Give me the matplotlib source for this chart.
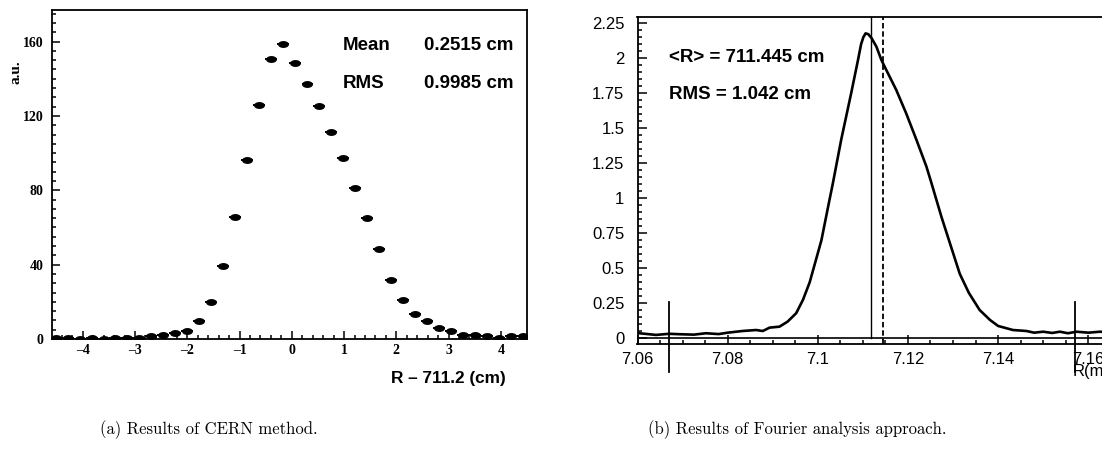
import numpy as np
import matplotlib.pyplot as plt
from matplotlib.ticker import MultipleLocator, FuncFormatter

# CERN method: binned distribution of R - 711.2 (cm)
bin_centers = [-4.52, -4.29, -4.06, -3.83, -3.60, -3.38, -3.15, -2.92, -2.69, -2.46,
               -2.23, -2.00, -1.77, -1.54, -1.31, -1.08, -0.85, -0.62, -0.39, -0.16,
               0.07, 0.30, 0.52, 0.75, 0.98, 1.21, 1.44, 1.67, 1.90, 2.13,
               2.36, 2.59, 2.82, 3.04, 3.27, 3.50, 3.73, 3.96, 4.19, 4.42]
counts = [0.3, 0.3, 0.2, 0.3, 0.2, 0.3, 0.4, 0.6, 1.6, 1.9,
          3.1, 4.4, 9.6, 20.0, 39.5, 65.8, 96.5, 125.8, 150.5, 158.5,
          148.7, 137.1, 125.3, 111.6, 97.6, 81.5, 65.0, 48.2, 31.5, 21.2,
          13.7, 9.5, 6.0, 4.2, 2.4, 2.4, 1.6, 0.4, 1.6, 1.6]
bin_width = 0.229

# Fourier analysis: reconstructed profile versus R (m)
r_m = [7.0600, 7.0604, 7.0641, 7.0670, 7.0693, 7.0725, 7.0752, 7.0780, 7.0800,
       7.0833, 7.0863, 7.0878, 7.0893, 7.0915, 7.0933, 7.0952, 7.0967, 7.0982,
       7.1008, 7.1026, 7.1033, 7.1052, 7.1074, 7.1089, 7.1096, 7.1101, 7.1106,
       7.1112, 7.1119, 7.1130, 7.1141, 7.1152, 7.1174, 7.1196, 7.1219, 7.1241,
       7.1252, 7.1263, 7.1275, 7.1288, 7.1301, 7.1315, 7.1335, 7.1359, 7.1382,
       7.1400, 7.1433, 7.1463, 7.1480, 7.1500, 7.1520, 7.1537, 7.1555, 7.1574,
       7.1600, 7.1626, 7.1650]
amplitude = [0.045, 0.036, 0.024, 0.032, 0.029, 0.026, 0.036, 0.030, 0.040,
             0.052, 0.059, 0.052, 0.076, 0.083, 0.119, 0.179, 0.274, 0.400,
             0.700, 0.990, 1.100, 1.420, 1.750, 1.985, 2.100, 2.150, 2.178,
             2.172, 2.145, 2.083, 1.988, 1.916, 1.774, 1.607, 1.416, 1.226,
             1.110, 0.990, 0.860, 0.730, 0.600, 0.460, 0.325, 0.202, 0.131,
             0.088, 0.059, 0.052, 0.040, 0.047, 0.038, 0.047, 0.036, 0.047,
             0.040, 0.047, 0.042]
mean_r = 7.11445
peak_r = 7.1119
range_r = [7.0669, 7.1570]
range_marker_y = [-0.239, 0.256]

fig = plt.figure(figsize=(11.02, 4.51), dpi=100)

# ---------- left: CERN method ----------
ax1 = fig.add_axes([0.0476, 0.2483, 0.4306, 0.7295])
t = np.linspace(0, 2 * np.pi, 41)
ellipse = np.column_stack([np.cos(t), 0.58 * np.sin(t)])
ax1.errorbar(bin_centers, counts, xerr=bin_width / 2, fmt='none',
             ecolor='black', elinewidth=1.4, capsize=0)
ax1.plot(bin_centers, counts, linestyle='none', marker=ellipse,
         markersize=6.8, color='black')
ax1.set_xlim(-4.58, 4.5)
ax1.set_ylim(0, 177)
ax1.xaxis.set_major_locator(MultipleLocator(1))
ax1.xaxis.set_minor_locator(MultipleLocator(0.2))
ax1.yaxis.set_major_locator(MultipleLocator(40))
ax1.yaxis.set_minor_locator(MultipleLocator(5))
ax1.xaxis.set_major_formatter(FuncFormatter(lambda v, p: f'{v:g}'.replace('-', '\u2013')))
ax1.tick_params(which='both', direction='in', top=False, right=False, width=1.1)
ax1.tick_params(axis='y', which='major', length=6, pad=6.5)
ax1.tick_params(axis='x', which='major', length=6, pad=3.5)
ax1.tick_params(which='minor', length=3)
for lab in ax1.get_xticklabels() + ax1.get_yticklabels():
    lab.set_fontfamily('Liberation Serif')
    lab.set_fontweight('bold')
    lab.set_fontsize(10)
for s in ax1.spines.values():
    s.set_linewidth(1.3)

fig.text(15.5 / 1102, 1 - 72 / 451, 'a.u.', rotation=90, ha='center', va='center',
         family='Liberation Serif', weight='bold', fontsize=11)
fig.text(342.6 / 1102, 1 - 46 / 451, 'Mean', ha='left', va='center',
         family='Liberation Sans', weight='bold', fontsize=13.5)
fig.text(424.5 / 1102, 1 - 46 / 451, '0.2515 cm', ha='left', va='center',
         family='Liberation Sans', weight='bold', fontsize=13.5)
fig.text(342.6 / 1102, 1 - 84 / 451, 'RMS', ha='left', va='center',
         family='Liberation Sans', weight='bold', fontsize=13.5)
fig.text(424.5 / 1102, 1 - 84 / 451, '0.9985 cm', ha='left', va='center',
         family='Liberation Sans', weight='bold', fontsize=13.5)
fig.text(506 / 1102, 1 - 379 / 451, 'R \u2013 711.2 (cm)', ha='right', va='center',
         family='Liberation Sans', weight='bold', fontsize=12.4)

# ---------- right: Fourier analysis ----------
ax2 = fig.add_axes([637.5 / 1102, 0.2372, (1110.8 - 637.5) / 1102, 0.963 - 0.2372])
ax2.plot(r_m, amplitude, color='black', lw=1.9)
ax2.set_xlim(7.06, 7.165)
ax2.set_ylim(-0.041, 2.297)
ax2.axhline(0, color='black', lw=1.2)
y0, y1 = ax2.get_ylim()
ax2.axvline(peak_r, ymin=(0 - y0) / (y1 - y0), ymax=1, color='black', lw=1.0)
ax2.axvline(mean_r, color='black', lw=1.3, linestyle=(0, (3, 1.6)))
for r in range_r:
    ax2.plot([r, r], range_marker_y, color='black', lw=1.3, clip_on=False)
ax2.xaxis.set_major_locator(MultipleLocator(0.02))
ax2.xaxis.set_minor_locator(MultipleLocator(0.005))
ax2.yaxis.set_major_locator(MultipleLocator(0.25))
ax2.yaxis.set_minor_locator(MultipleLocator(0.05))
ax2.xaxis.set_major_formatter(FuncFormatter(lambda v, p: f'{round(v, 4):g}'))
ax2.yaxis.set_major_formatter(FuncFormatter(lambda v, p: f'{round(v, 4):g}'))
ax2.tick_params(which='both', direction='in', top=False, right=False, width=1.1,
                labelsize=12)
ax2.tick_params(axis='y', which='major', length=6.5, pad=9.5)
ax2.tick_params(axis='x', which='major', length=6.5, pad=6)
ax2.tick_params(which='minor', length=3)
for lab in ax2.get_xticklabels() + ax2.get_yticklabels():
    lab.set_fontfamily('Liberation Sans')
for s in ax2.spines.values():
    s.set_linewidth(1.3)
ax2.text(7.1565, -0.238, 'R(m)', ha='left', va='center', clip_on=False,
         family='Liberation Sans', fontsize=12)
fig.text(669 / 1102, 1 - 57 / 451, '<R> = 711.445 cm', ha='left', va='center',
         family='Liberation Sans', weight='bold', fontsize=13.5)
fig.text(669 / 1102, 1 - 94 / 451, 'RMS = 1.042 cm', ha='left', va='center',
         family='Liberation Sans', weight='bold', fontsize=13.5)

# captions
fig.text(209 / 1102, 1 - 430 / 451, '(a) Results of CERN method.', ha='center',
         va='center', family='cmr10', fontsize=12)
fig.text(797 / 1102, 1 - 430 / 451, '(b) Results of Fourier analysis approach.',
         ha='center', va='center', family='cmr10', fontsize=12)

fig.savefig('out.png', dpi=100)
